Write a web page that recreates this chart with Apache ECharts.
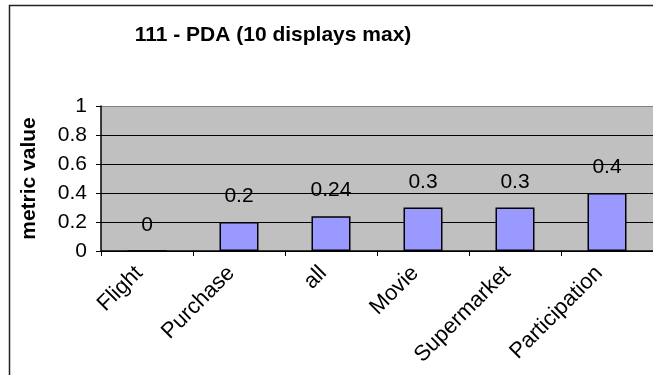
<!DOCTYPE html>
<html>
<head>
<meta charset="utf-8">
<script src="https://cdn.jsdelivr.net/npm/echarts@6/dist/echarts.min.js"></script>
<style>
  html, body { margin: 0; padding: 0; background: #fff; }
  #chart { width: 653px; height: 375px; }
</style>
</head>
<body>
<div id="chart"></div>
<script>
// Metric value per display scenario
const categories = ['Flight', 'Purchase', 'all', 'Movie', 'Supermarket', 'Participation'];
const metricValues = [0, 0.2, 0.24, 0.3, 0.3, 0.4];
const yTicks = [0, 0.2, 0.4, 0.6, 0.8, 1];

const FONT = 'Liberation Sans, Arial, sans-serif';

const chart = echarts.init(document.getElementById('chart'), null, { renderer: 'canvas' });

chart.setOption({
  animation: false,
  backgroundColor: '#ffffff',
  title: {
    text: '111 - PDA (10 displays max)',
    left: 268,
    top: 20,
    textAlign: 'center',
    textStyle: { fontFamily: FONT, fontSize: 21, fontWeight: 'bold', color: '#000' }
  },
  graphic: [{
    type: 'rect',
    shape: { x: 9.5, y: 5.5, width: 720, height: 420 },
    style: { fill: 'none', stroke: '#222', lineWidth: 1.5 },
    silent: true,
    z: 0
  }],
  grid: {
    left: 101,
    top: 106,
    width: 562,
    height: 145,
    show: true,
    backgroundColor: '#c0c0c0',
    borderWidth: 0
  },
  xAxis: {
    type: 'category',
    data: categories,
    axisLine: { show: true, lineStyle: { color: '#000', width: 1.5 } },
    axisTick: { show: true, length: 5, lineStyle: { color: '#000', width: 1 } },
    axisLabel: {
      rotate: 45,
      margin: 11,
      interval: 0,
      padding: [0, 11, 0, 0],
      fontFamily: FONT,
      fontSize: 22,
      color: '#000'
    },
    splitLine: { show: false }
  },
  yAxis: {
    type: 'value',
    min: yTicks[0],
    max: yTicks[yTicks.length - 1],
    interval: 0.2,
    name: 'metric value',
    nameLocation: 'middle',
    nameGap: 61,
    nameTextStyle: { fontFamily: FONT, fontSize: 21, fontWeight: 'bold', color: '#000' },
    axisLine: { show: true, lineStyle: { color: '#000', width: 1.5 } },
    axisTick: { show: true, length: 5, lineStyle: { color: '#000', width: 1 } },
    axisLabel: {
      margin: 14,
      fontFamily: FONT,
      fontSize: 21,
      color: '#000',
      formatter: v => String(Math.round(v * 10) / 10)
    },
    splitLine: {
      show: true,
      lineStyle: { color: ['#000', '#000', '#000', '#000', '#000', '#808080'], width: 1 }
    }
  },
  series: [{
    type: 'bar',
    data: metricValues,
    barWidth: 39,
    itemStyle: { color: '#9999ff', borderColor: '#000', borderWidth: 1.5 },
    label: {
      show: true,
      position: 'top',
      distance: 15,
      fontFamily: FONT,
      fontSize: 21,
      color: '#000',
      formatter: p => String(p.value)
    }
  }]
});
</script>
</body>
</html>
